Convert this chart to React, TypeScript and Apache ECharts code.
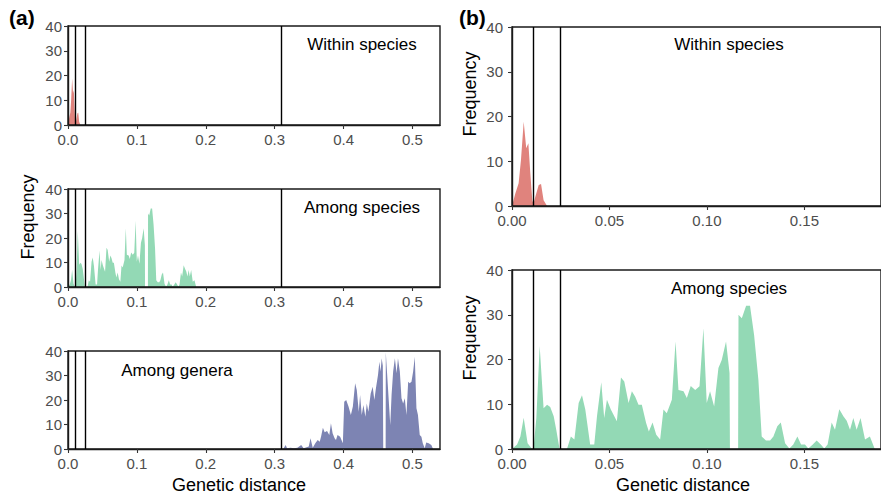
import React, { useEffect, useRef } from "react";
import * as echarts from "echarts";

// ---- data ----
const withinDist = [0, 0.0017, 0.0034, 0.0046, 0.006, 0.0073, 0.0084, 0.0094, 0.0104, 0.011, 0.012, 0.0137, 0.0149, 0.0162, 0.018];
const withinFreq = [0, 2.8, 5.1, 10.3, 18.8, 12.9, 14, 7.3, 1.3, 0.5, 2.1, 4.7, 4.9, 1.3, 0];

const speciesDist = [
  0, 0.0026, 0.0043, 0.006, 0.008, 0.0099, 0.011, 0.0125, 0.0142, 0.0162, 0.018, 0.0196, 0.0214, 0.0227, 0.0244,
  0.0282, 0.0302, 0.032, 0.0342, 0.0359, 0.0376, 0.0401, 0.0422, 0.0436, 0.0458, 0.0473, 0.0487, 0.0507, 0.0538,
  0.0559, 0.0576, 0.0598, 0.0615, 0.0632, 0.0649, 0.0666, 0.0688, 0.0702, 0.0721, 0.074, 0.076, 0.0777, 0.0794,
  0.082, 0.0839, 0.0854, 0.088, 0.0897, 0.0917, 0.094, 0.0962, 0.0982, 0.0999, 0.1016, 0.1037, 0.1059, 0.1076,
  0.1098, 0.1116, 0.1118, 0.116, 0.1162, 0.1179, 0.1201, 0.1221, 0.1242, 0.1264, 0.1281, 0.1303, 0.1324, 0.1341,
  0.1361, 0.1379, 0.1401, 0.1423, 0.1443, 0.1464, 0.1483, 0.1503, 0.152, 0.1543, 0.1563, 0.1584, 0.1602, 0.1619,
  0.164, 0.1657, 0.1679, 0.17, 0.1717, 0.1734, 0.1751, 0.1768, 0.1788, 0.1811, 0.1836, 0.1861,
];
const speciesFreq = [
  0, 1, 2.8, 7, 1.3, 0.2, 0, 7, 23, 9.1, 9.9, 9.4, 7.3, 4.3, 0,
  0, 2.8, 2.1, 10.3, 12, 8.8, 1, 1, 7.3, 14.9, 6.9, 11, 8.8, 6.2,
  16, 15.1, 10.3, 12.9, 11.7, 9.9, 9.9, 5.8, 3.9, 5.9, 3.2, 2.1, 8.8, 8,
  11, 24, 13.2, 12.9, 11.4, 14.1, 13.2, 14, 27, 10.3, 12.9, 9.5, 18.1, 19.9,
  24, 17, 0, 0, 30, 29.2, 32, 32, 25.5, 15.5, 2.8, 1.9, 1.9, 2.8,
  5.1, 5.9, 1.3, 0.1, 1, 2.8, 1, 1, 0.1, 1, 1.9, 1, 0.1, 1,
  5.9, 4.3, 8.9, 7.3, 6.3, 4.3, 6.9, 4.3, 6.9, 2.1, 2.8, 0,
];

const generaDist = [
  0.3125, 0.3159, 0.318, 0.323, 0.328, 0.333, 0.3385, 0.342, 0.3495, 0.352, 0.3553, 0.359, 0.3625, 0.3654, 0.3673,
  0.37, 0.3726, 0.376, 0.3793, 0.3817, 0.3841, 0.387, 0.389, 0.3913, 0.395, 0.399, 0.401, 0.4038, 0.4072, 0.4106,
  0.4135, 0.4168, 0.4192, 0.4221, 0.424, 0.4264, 0.4288, 0.4317, 0.4337, 0.436, 0.4394, 0.4423, 0.4447, 0.447,
  0.45, 0.452, 0.4538, 0.4553, 0.457, 0.4576, 0.4611, 0.4613, 0.4678, 0.4697, 0.472, 0.4745, 0.477, 0.479, 0.4817,
  0.4841, 0.4865, 0.4889, 0.4913, 0.4938, 0.496, 0.4986, 0.501, 0.5034, 0.5058, 0.508, 0.5106, 0.513, 0.515,
  0.5178, 0.52, 0.5236, 0.5274, 0.53,
];
const generaFreq = [
  0, 1.6, 0.3, 0.5, 0.3, 0.5, 1.6, 0.3, 1, 4.4, 0.5, 2.3, 3.7, 3, 5,
  8.7, 6.8, 7.3, 5.7, 10.5, 6.4, 4.4, 3.7, 5.7, 5, 2.3, 19.3, 20, 17.3, 13.9,
  17.3, 26.8, 24.1, 15.2, 22, 13.9, 18, 13.2, 18.6, 15.2, 22.7, 25.4, 20, 24.8,
  30.2, 35.6, 31.6, 37, 34, 0, 0, 39.5, 9.8, 22, 31.6, 37, 30.9, 37, 31.6,
  20.7, 18.6, 20.7, 13.9, 27.5, 26.8, 27.5, 31.6, 37.7, 16.6, 13.9, 5.7, 5, 2.3,
  0.3, 2.7, 2.3, 1.6, 0,
];

const thresholds = [0.011, 0.025, 0.31];
const yTicks = [0, 10, 20, 30, 40];
const xTicksA = [0, 0.1, 0.2, 0.3, 0.4, 0.5];
const xTicksB = [0, 0.05, 0.1, 0.15];
const groupLabels = ["Within species", "Among species", "Among genera"];
const panelTags = ["(a)", "(b)"];
const axisTitles = ["Frequency", "Genetic distance"];

const FONT = "'Liberation Sans', Arial, Helvetica, sans-serif";
const RED = "#E0837D";
const GREEN = "#93D9B5";
const BLUE = "#7D84B3";

const zip = (xs: number[], ys: number[]) => xs.map((x, i) => [x, ys[i]]);

export default function App() {
  const ref = useRef<HTMLDivElement>(null);

  useEffect(() => {
    if (!ref.current) return;
    const chart = echarts.init(ref.current, undefined, { renderer: "svg" });

    const grids = [
      { left: 68, top: 26, width: 372, height: 99 },
      { left: 68, top: 189, width: 372, height: 98 },
      { left: 68, top: 351, width: 372, height: 98 },
      { left: 512, top: 27, width: 370, height: 179 },
      { left: 512, top: 270, width: 370, height: 179 },
    ].map((g) => ({
      ...g,
      show: true,
      borderColor: "#1a1a1a",
      borderWidth: 1.4,
      backgroundColor: "transparent",
      z: 5,
    }));

    const xAxis = grids.map((_, i) => {
      const isA = i < 3;
      const ticks = isA ? xTicksA : xTicksB;
      return {
        gridIndex: i,
        type: "value",
        min: 0,
        max: isA ? 0.54 : 0.1893,
        z: 6,
        axisLine: { show: true, onZero: false, lineStyle: { color: "#1a1a1a", width: 1.4 } },
        axisTick: { show: true, length: 4, customValues: ticks, lineStyle: { color: "#333", width: 1.1 } },
        axisLabel: {
          customValues: ticks,
          formatter: (v: number) => v.toFixed(isA ? 1 : 2),
          color: "#4D4D4D",
          fontSize: 15,
          fontFamily: FONT,
          margin: 7,
        },
        splitLine: { show: false },
      };
    });

    const yAxis = grids.map((_, i) => ({
      gridIndex: i,
      type: "value",
      min: 0,
      max: 40,
      interval: 10,
      z: 6,
      axisLine: { show: true, lineStyle: { color: "#1a1a1a", width: 1.4 } },
      axisTick: { show: true, length: 4, customValues: yTicks, lineStyle: { color: "#333", width: 1.1 } },
      axisLabel: { color: "#4D4D4D", fontSize: 15, fontFamily: FONT, margin: i < 3 ? 6 : 9 },
      splitLine: { show: false },
    }));

    const mk = (i: number, data: number[][], color: string, lines: number[]) => ({
      type: "line",
      xAxisIndex: i,
      yAxisIndex: i,
      data,
      symbol: "none",
      showSymbol: false,
      lineStyle: { width: 0, opacity: 0 },
      areaStyle: { color, opacity: 1, origin: "start" },
      itemStyle: { color },
      z: 2,
      silent: true,
      markLine: {
        silent: true,
        precision: 4,
        symbol: ["none", "none"],
        label: { show: false },
        lineStyle: { color: "#000", width: 1.4, type: "solid" },
        data: lines.map((v) => ({ xAxis: v })),
        z: 7,
      },
    });

    const within = zip(withinDist, withinFreq);
    const species = zip(speciesDist, speciesFreq);
    const genera = zip(generaDist, generaFreq);
    const linesB = thresholds.filter((t) => t < 0.1893);

    const series = [
      mk(0, within, RED, thresholds),
      mk(1, species, GREEN, thresholds),
      mk(2, genera, BLUE, thresholds),
      mk(3, within, RED, linesB),
      mk(4, species, GREEN, linesB),
    ];

    const txt = (x: number, y: number, text: string, size: number, bold = false, align = "center", rotation = 0) => ({
      type: "text",
      x,
      y,
      z: 10,
      rotation,
      style: {
        text,
        fill: "#000",
        font: `${bold ? "bold " : ""}${size}px ${FONT}`,
        textAlign: align,
        textVerticalAlign: "middle",
      },
    });

    const R = Math.PI / 2;
    const graphic = [
      txt(9, 17, panelTags[0], 21, true, "left"),
      txt(459, 17, panelTags[1], 21, true, "left"),
      txt(362, 44, groupLabels[0], 17),
      txt(362, 207, groupLabels[1], 17),
      txt(177, 370, groupLabels[2], 17),
      txt(729, 44, groupLabels[0], 17),
      txt(729, 288, groupLabels[1], 17),
      txt(28, 217, axisTitles[0], 18, false, "center", R),
      txt(470, 94, axisTitles[0], 18, false, "center", R),
      txt(470, 338, axisTitles[0], 18, false, "center", R),
      txt(239, 485, axisTitles[1], 18),
      txt(683, 485, axisTitles[1], 18),
    ];

    chart.setOption({
      animation: false,
      backgroundColor: "#fff",
      grid: grids,
      xAxis,
      yAxis,
      series,
      graphic,
    });

    return () => chart.dispose();
  }, []);

  return (
    <div
      ref={ref}
      style={{ position: "fixed", left: 0, top: 0, width: 881, height: 497, background: "#fff" }}
    />
  );
}
